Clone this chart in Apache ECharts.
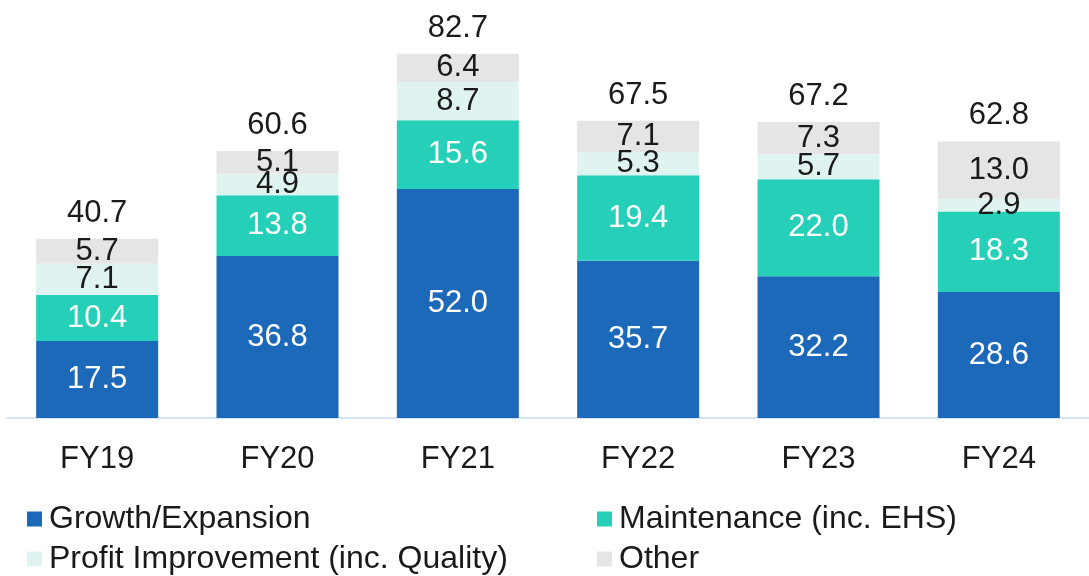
<!DOCTYPE html>
<html>
<head>
<meta charset="utf-8">
<script src="https://cdn.jsdelivr.net/npm/echarts@6/dist/echarts.min.js"></script>
<style>
  html, body { margin: 0; padding: 0; background: #fff; }
  #main { width: 1089px; height: 576px; }
</style>
</head>
<body>
<div id="main"></div>
<script>
// data
var categories = ['FY19', 'FY20', 'FY21', 'FY22', 'FY23', 'FY24'];
var growth = [17.5, 36.8, 52.0, 35.7, 32.2, 28.6];
var maintenance = [10.4, 13.8, 15.6, 19.4, 22.0, 18.3];
var profit = [7.1, 4.9, 8.7, 5.3, 5.7, 2.9];
var other = [5.7, 5.1, 6.4, 7.1, 7.3, 13.0];
var totals = [40.7, 60.6, 82.7, 67.5, 67.2, 62.8];

var font = 'Liberation Sans, Arial, sans-serif';
var fs = 31;

function seg(name, data, color, textColor) {
    return {
        name: name,
        type: 'bar',
        stack: 'capex',
        data: data,
        barWidth: 122,
        itemStyle: { color: color },
        label: {
            show: true,
            position: 'inside',
            color: textColor,
            fontSize: fs,
            fontFamily: font,
            formatter: function (p) { return p.value.toFixed(1); }
        }
    };
}

// one legend per item so the 2x2 layout is exact
function leg(name, left, top) {
    return {
        data: [name],
        left: left,
        top: top,
        itemWidth: 15,
        itemHeight: 15,
        icon: 'rect',
        textStyle: { color: '#1a1a1a', fontSize: 32, fontFamily: font, lineHeight: 32, padding: [0, 0, 0, 2] }
    };
}

var myChart = echarts.init(document.getElementById('main'));

var option = {
    animation: false,
    grid: { left: 7, width: 1095, top: 21.6, bottom: 158 },
    xAxis: {
        type: 'category',
        data: categories,
        axisLine: { lineStyle: { color: '#d3e4f5', width: 2 } },
        axisTick: { show: false },
        axisLabel: { color: '#1a1a1a', fontSize: fs, fontFamily: font, margin: 26 }
    },
    yAxis: {
        type: 'value',
        min: 0,
        max: 90,
        show: false,
        splitLine: { show: false }
    },
    legend: [
        leg('Growth/Expansion', 22, 498),
        leg('Profit Improvement (inc. Quality)', 22, 538),
        leg('Maintenance (inc. EHS)', 592, 498),
        leg('Other', 592, 538)
    ],
    series: [
        seg('Growth/Expansion', growth, '#1c68b9', '#ffffff'),
        seg('Maintenance (inc. EHS)', maintenance, '#26d0b8', '#ffffff'),
        seg('Profit Improvement (inc. Quality)', profit, '#dff3f1', '#1a1a1a'),
        seg('Other', other, '#e5e5e5', '#1a1a1a'),
        {
            name: 'Total',
            type: 'bar',
            stack: 'capex',
            barWidth: 122,
            data: totals.map(function () { return 0; }),
            itemStyle: { color: 'transparent' },
            label: {
                show: true,
                position: 'top',
                distance: 10,
                color: '#1a1a1a',
                fontSize: fs,
                fontFamily: font,
                formatter: function (p) { return totals[p.dataIndex].toFixed(1); }
            }
        }
    ]
};

myChart.setOption(option);
</script>
</body>
</html>
